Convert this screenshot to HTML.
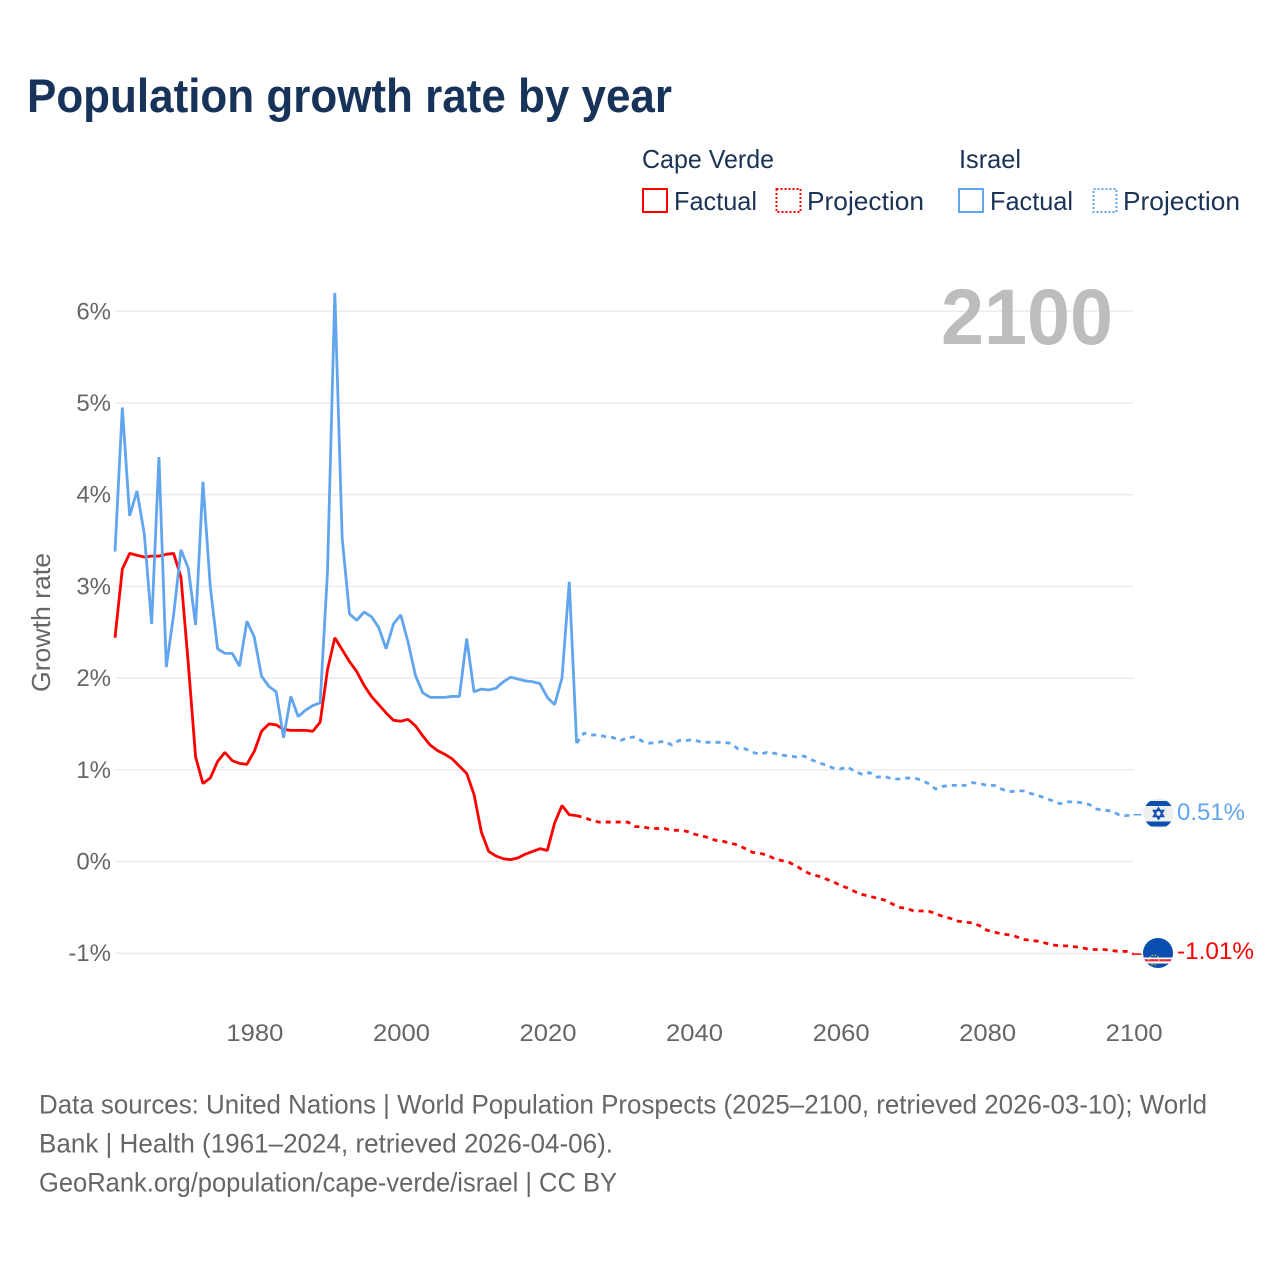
<!DOCTYPE html>
<html lang="en">
<head>
<meta charset="utf-8">
<title>Population growth rate by year</title>
<style>
  html, body { margin: 0; padding: 0; background: #fff; }
  svg { display: block; font-family: "Liberation Sans", sans-serif; }
</style>
</head>
<body>
<svg id="chart" xmlns="http://www.w3.org/2000/svg" width="1280" height="1280" viewBox="0 0 1280 1280">
  <rect x="0" y="0" width="1280" height="1280" fill="#ffffff"/>
  <text x="27" y="112" font-size="47" font-weight="700" fill="#17335a" textLength="645" lengthAdjust="spacingAndGlyphs">Population growth rate by year</text>

  <g font-size="26" fill="#1b3354">
    <text x="642" y="168" textLength="132" lengthAdjust="spacingAndGlyphs">Cape Verde</text>
    <text x="959" y="168" textLength="62" lengthAdjust="spacingAndGlyphs">Israel</text>
    <rect x="643" y="189" width="24" height="23" fill="none" stroke="#ff0000" stroke-width="2"/>
    <text x="674" y="210" textLength="83" lengthAdjust="spacingAndGlyphs">Factual</text>
    <rect x="776.5" y="189" width="24" height="23" fill="none" stroke="#ff0000" stroke-width="2" stroke-dasharray="2 2"/>
    <text x="807" y="210" textLength="117" lengthAdjust="spacingAndGlyphs">Projection</text>
    <rect x="959" y="189" width="24" height="23" fill="none" stroke="#60a5ee" stroke-width="2"/>
    <text x="990" y="210" textLength="83" lengthAdjust="spacingAndGlyphs">Factual</text>
    <rect x="1093.5" y="189" width="23" height="23" fill="none" stroke="#60a5ee" stroke-width="2" stroke-dasharray="2 2"/>
    <text x="1123" y="210" textLength="117" lengthAdjust="spacingAndGlyphs">Projection</text>
  </g>

  <g id="grid"></g>
  <g id="y-ticks"></g>
  <g id="x-ticks"></g>
  <text transform="translate(50 622.5) rotate(-90)" text-anchor="middle" font-size="26" fill="#666666" textLength="139" lengthAdjust="spacingAndGlyphs">Growth rate</text>
  <text x="941" y="344" font-size="79" font-weight="700" fill="#bdbdbd" textLength="172" lengthAdjust="spacingAndGlyphs">2100</text>

  <g id="series"></g>

  <defs>
    <clipPath id="flag-clip-il"><circle cx="1158.5" cy="813.5" r="15"/></clipPath>
    <clipPath id="flag-clip-cv"><circle cx="1158" cy="953" r="15"/></clipPath>
  </defs>
  <g clip-path="url(#flag-clip-il)">
    <rect x="1143" y="798" width="31" height="31" fill="#eeeeee"/>
    <rect x="1143" y="801" width="31" height="5" fill="#0a4fb0"/>
    <rect x="1143" y="821.5" width="31" height="5" fill="#0a4fb0"/>
    <path d="M1158.5 808 L1163.5 816.5 L1153.5 816.5 Z M1158.5 819 L1153.5 810.5 L1163.5 810.5 Z" fill="none" stroke="#0a4fb0" stroke-width="1.6"/>
  </g>
  <g clip-path="url(#flag-clip-cv)">
    <rect x="1142" y="937" width="32" height="32" fill="#0a4fb0"/>
    <rect x="1142" y="957.5" width="32" height="6" fill="#ffffff"/>
    <rect x="1142" y="959.2" width="32" height="2.2" fill="#e8283a"/>
    <circle cx="1154" cy="960" r="5" fill="none" stroke="#e8d44a" stroke-width="1" stroke-dasharray="1.5 1.5"/>
  </g>
  <text x="1177" y="820" font-size="24.5" fill="#60a5ee" textLength="68" lengthAdjust="spacingAndGlyphs">0.51%</text>
  <text x="1177" y="959" font-size="24.5" fill="#ff0000" textLength="77" lengthAdjust="spacingAndGlyphs">-1.01%</text>

  <g font-size="26.5" fill="#666666">
    <text x="39" y="1113.5" textLength="1168" lengthAdjust="spacingAndGlyphs">Data sources: United Nations | World Population Prospects (2025–2100, retrieved 2026-03-10); World</text>
    <text x="39" y="1152.5" textLength="574" lengthAdjust="spacingAndGlyphs">Bank | Health (1961–2024, retrieved 2026-04-06).</text>
    <text x="39" y="1191.5" textLength="578" lengthAdjust="spacingAndGlyphs">GeoRank.org/population/cape-verde/israel | CC BY</text>
  </g>
</svg>

<script>
const yTickValues = [-1, 0, 1, 2, 3, 4, 5, 6];
const yTickLabels = ["-1%", "0%", "1%", "2%", "3%", "4%", "5%", "6%"];
const xTickYears = [1980, 2000, 2020, 2040, 2060, 2080, 2100];
const xTickLabels = ["1980", "2000", "2020", "2040", "2060", "2080", "2100"];

const factualStartYear = 1961;
const projectionStartYear = 2024;

const capeVerdeFactual = [
  2.44, 3.19, 3.36, 3.34, 3.32, 3.33, 3.33, 3.35, 3.36, 3.10,
  2.16, 1.14, 0.85, 0.91, 1.09, 1.19, 1.10, 1.07, 1.06, 1.20,
  1.42, 1.50, 1.49, 1.44, 1.43, 1.43, 1.43, 1.42, 1.52, 2.09,
  2.44, 2.31, 2.18, 2.07, 1.92, 1.80, 1.71, 1.62, 1.54, 1.53,
  1.55, 1.48, 1.37, 1.27, 1.21, 1.17, 1.12, 1.04, 0.96, 0.73,
  0.32, 0.11, 0.06, 0.03, 0.02, 0.04, 0.08, 0.11, 0.14, 0.12,
  0.42, 0.61, 0.51, 0.50
];
const capeVerdeProjection = [
  0.50, 0.48, 0.45, 0.43, 0.43, 0.43, 0.43, 0.43, 0.38, 0.38, 0.36,
  0.36, 0.36, 0.34, 0.34, 0.33, 0.30, 0.28, 0.26, 0.23, 0.22,
  0.20, 0.18, 0.14, 0.10, 0.09, 0.07, 0.03, 0.01, -0.01, -0.05,
  -0.10, -0.14, -0.16, -0.19, -0.22, -0.26, -0.29, -0.33, -0.36, -0.38,
  -0.40, -0.42, -0.46, -0.50, -0.51, -0.54, -0.54, -0.54, -0.57, -0.60,
  -0.62, -0.65, -0.66, -0.67, -0.70, -0.75, -0.77, -0.79, -0.80, -0.82,
  -0.85, -0.86, -0.87, -0.89, -0.91, -0.92, -0.92, -0.93, -0.94, -0.96,
  -0.96, -0.96, -0.97, -0.98, -0.98, -1.01
];
const israelFactual = [
  3.38, 4.95, 3.77, 4.04, 3.57, 2.59, 4.41, 2.12, 2.69, 3.40,
  3.20, 2.58, 4.14, 3.00, 2.32, 2.27, 2.27, 2.13, 2.62, 2.45,
  2.02, 1.91, 1.85, 1.35, 1.80, 1.58, 1.65, 1.70, 1.73, 3.16,
  6.20, 3.53, 2.70, 2.63, 2.72, 2.67, 2.55, 2.32, 2.59, 2.69,
  2.39, 2.03, 1.84, 1.79, 1.79, 1.79, 1.80, 1.80, 2.43, 1.85,
  1.88, 1.87, 1.89, 1.96, 2.01, 1.99, 1.97, 1.96, 1.94, 1.79,
  1.71, 2.00, 3.05, 1.29
];
const israelProjection = [
  1.29, 1.40, 1.38, 1.38, 1.36, 1.35, 1.32, 1.35, 1.36, 1.31, 1.29,
  1.30, 1.31, 1.27, 1.32, 1.32, 1.33, 1.30, 1.30, 1.30, 1.30,
  1.29, 1.23, 1.23, 1.19, 1.17, 1.19, 1.18, 1.16, 1.15, 1.14,
  1.15, 1.11, 1.08, 1.05, 1.02, 1.01, 1.03, 0.98, 0.95, 0.97,
  0.92, 0.93, 0.90, 0.90, 0.91, 0.91, 0.89, 0.85, 0.79, 0.82,
  0.83, 0.83, 0.83, 0.86, 0.85, 0.83, 0.83, 0.79, 0.76, 0.77,
  0.77, 0.74, 0.72, 0.69, 0.66, 0.63, 0.65, 0.65, 0.64, 0.62,
  0.57, 0.56, 0.55, 0.51, 0.50, 0.51
];

const SVG_NS = "http://www.w3.org/2000/svg";
const PLOT_LEFT = 115;
const PLOT_RIGHT = 1133.5;

function xScale(year) {
  return PLOT_LEFT + (year - factualStartYear) * (PLOT_RIGHT - PLOT_LEFT) / 139;
}
function yScale(value) {
  return 861.5 - value * 91.7;
}
function make(tag, parent) {
  const el = document.createElementNS(SVG_NS, tag);
  parent.appendChild(el);
  return el;
}
function linePoints(values, startYear) {
  return values.map(function (v, i) {
    return xScale(startYear + i).toFixed(2) + "," + yScale(v).toFixed(2);
  }).join(" ");
}

const gridGroup = document.getElementById("grid");
const yTickGroup = document.getElementById("y-ticks");
yTickValues.forEach(function (value, i) {
  const line = make("line", gridGroup);
  
  
  line.setAttribute("x1", PLOT_LEFT);
  line.setAttribute("x2", PLOT_RIGHT);
  line.setAttribute("y1", yScale(value));
  line.setAttribute("y2", yScale(value));
  line.setAttribute("stroke", "#ececec");
  line.setAttribute("stroke-width", "1.5");

  const label = make("text", yTickGroup);
  
  
  label.setAttribute("x", 111);
  label.setAttribute("y", yScale(value) + 8);
  label.setAttribute("text-anchor", "end");
  label.setAttribute("font-size", "24");
  label.setAttribute("fill", "#666666");
  label.textContent = yTickLabels[i];
});

const xTickGroup = document.getElementById("x-ticks");
xTickYears.forEach(function (year, i) {
  const label = make("text", xTickGroup);
  
  
  label.setAttribute("x", xScale(year) + 0.7);
  label.setAttribute("y", 1041);
  label.setAttribute("text-anchor", "middle");
  label.setAttribute("font-size", "24.5");
  label.setAttribute("fill", "#666666");
  label.setAttribute("textLength", "57");
  label.setAttribute("lengthAdjust", "spacingAndGlyphs");
  label.textContent = xTickLabels[i];
});

const seriesGroup = document.getElementById("series");
function drawSeries(name, values, startYear, color, dashed) {
  const line = make("polyline", seriesGroup);
  
  
  line.setAttribute("points", linePoints(values, startYear));
  line.setAttribute("fill", "none");
  line.setAttribute("stroke", color);
  line.setAttribute("stroke-width", "2.8");
  line.setAttribute("stroke-linejoin", "bevel");
  if (dashed) {
    line.setAttribute("stroke-dasharray", "5 5");
  }
}
function drawConnector(name, value, color) {
  const line = make("line", seriesGroup);
  
  
  line.setAttribute("x1", PLOT_RIGHT);
  line.setAttribute("x2", PLOT_RIGHT + 8);
  line.setAttribute("y1", yScale(value));
  line.setAttribute("y2", yScale(value));
  line.setAttribute("stroke", color);
  line.setAttribute("stroke-width", "1.5");
}
drawSeries("cape-verde-projection-line", capeVerdeProjection, projectionStartYear, "#ff0000", true);
drawSeries("israel-projection-line", israelProjection, projectionStartYear, "#60a5ee", true);
drawSeries("cape-verde-factual-line", capeVerdeFactual, factualStartYear, "#ff0000", false);
drawSeries("israel-factual-line", israelFactual, factualStartYear, "#60a5ee", false);
drawConnector("cape-verde-end-connector", capeVerdeProjection[capeVerdeProjection.length - 1], "#ff0000");
drawConnector("israel-end-connector", israelProjection[israelProjection.length - 1], "#60a5ee");
</script>
</body>
</html>
